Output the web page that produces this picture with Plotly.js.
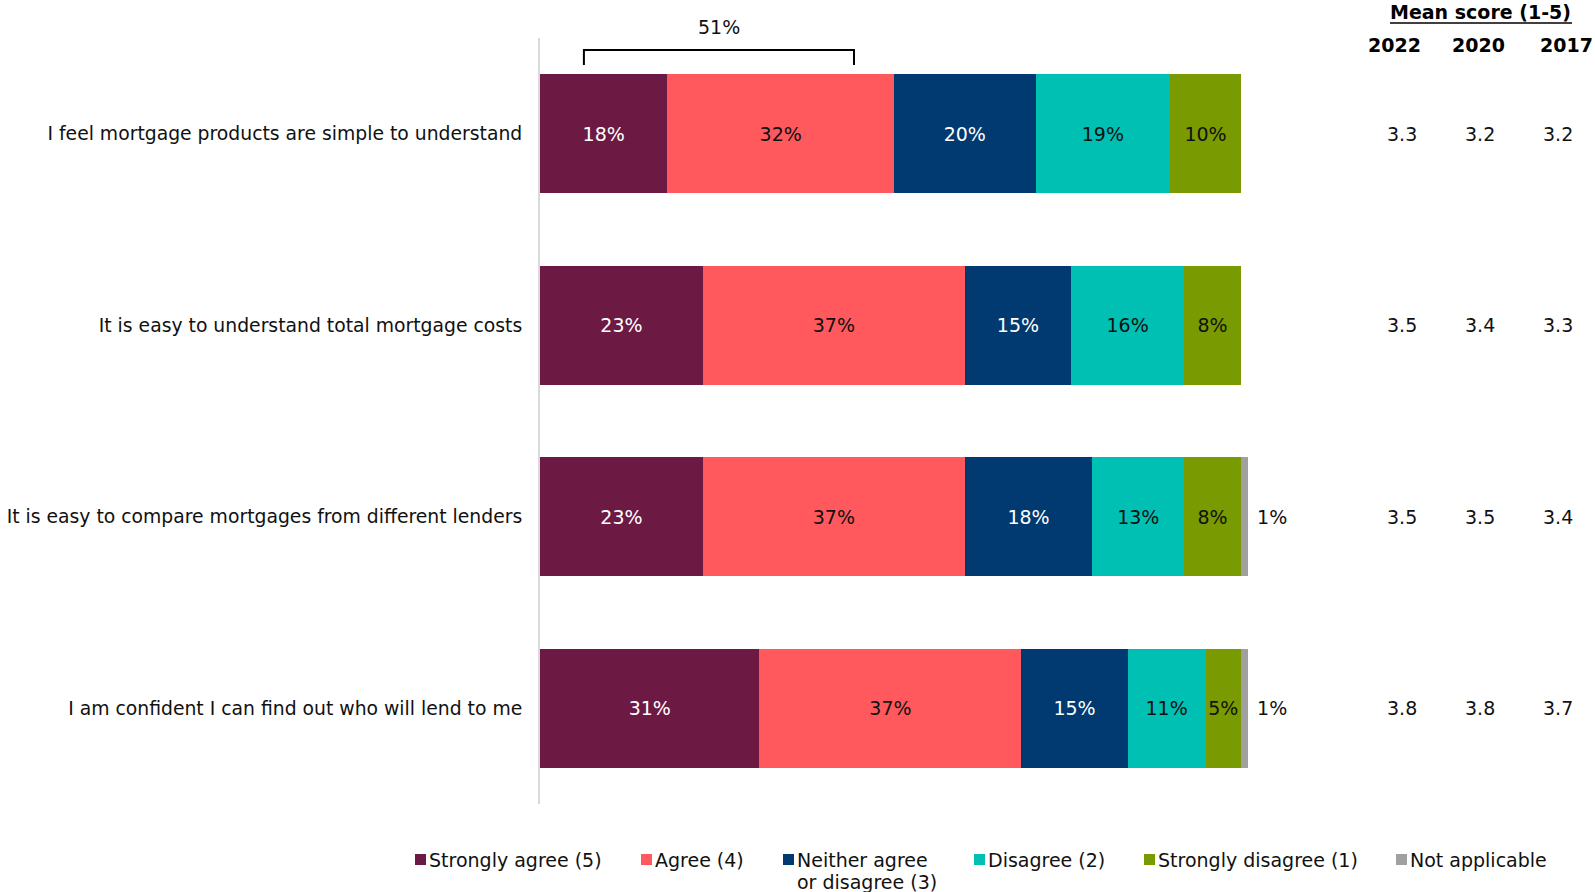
<!DOCTYPE html>
<html>
<head>
<meta charset="utf-8">
<script src="https://cdn.plot.ly/plotly-3.0.1.min.js"></script>
<style>html,body{margin:0;padding:0;background:#fff;}#chart{width:1595px;height:892px;}</style>
</head>
<body>
<div id="chart"></div>
<script>
// ---- data ----
const categories = [
  "I feel mortgage products are simple to understand",
  "It is easy to understand total mortgage costs",
  "It is easy to compare mortgages from different lenders",
  "I am confident I can find out who will lend to me"
];
const seriesNames = ["Strongly agree (5)", "Agree (4)", "Neither agree<br>or disagree (3)", "Disagree (2)", "Strongly disagree (1)", "Not applicable"];
const stronglyAgree    = [18, 23, 23, 31];
const agree            = [32, 37, 37, 37];
const neither          = [20, 15, 18, 15];
const disagree         = [19, 16, 13, 11];
const stronglyDisagree = [10, 8, 8, 5];
const notApplicable    = [null, null, 1, 1];
const meanTitle = "Mean score (1-5)";
const meanYears = ["2022", "2020", "2017"];
const mean2022 = [3.3, 3.5, 3.5, 3.8];
const mean2020 = [3.2, 3.4, 3.5, 3.8];
const mean2017 = [3.2, 3.3, 3.4, 3.7];
const netAgreeLabel = ["51%"];

// ---- styling ----
const colors = ["#6C1A44", "#FF585D", "#003A70", "#00BFB3", "#7A9A01", "#A0A0A0"];
const textColors = ["#ffffff", "#111111", "#ffffff", "#111111", "#111111", "#111111"];
const FONT = "DejaVu Sans, Verdana, sans-serif";
const FS = 19;
const W = 1595, H = 892;
const L = 540, R = 1248, T = 38, B = 804;
const px = x => (x - L) / (R - L);
const py = y => (B - y) / (B - T);

const seriesValues = [stronglyAgree, agree, neither, disagree, stronglyDisagree, notApplicable];
const traces = seriesValues.map((vals, i) => ({
  type: "bar",
  orientation: "h",
  name: seriesNames[i].replace("<br>", " "),
  y: categories,
  x: vals,
  marker: {color: colors[i], line: {width: 0}},
  text: vals.map(v => v == null ? "" : (i === 5 ? "\u00a0" : "") + v + "%"),
  texttemplate: "%{text}",
  textposition: i === 5 ? "outside" : "inside",
  insidetextanchor: "middle",
  textangle: 0,
  constraintext: "none",
  cliponaxis: false,
  insidetextfont: {family: FONT, size: FS, color: textColors[i]},
  outsidetextfont: {family: FONT, size: FS, color: "#111111"},
  hoverinfo: "skip",
  showlegend: false
}));

const annotations = [];
const shapes = [];

// Mean score header
annotations.push({xref: "paper", yref: "paper", x: px(1480), y: py(12), xanchor: "center", yanchor: "middle",
  text: "<b>" + meanTitle + "</b>", showarrow: false, font: {family: FONT, size: FS, color: "#000"}});
shapes.push({type: "line", xref: "paper", yref: "paper", x0: px(1390), x1: px(1572), y0: py(23), y1: py(23),
  line: {color: "#000", width: 1.5}});
const yearX = [1394, 1478, 1566];
const valX = [1402, 1480, 1558];
const meanCols = [mean2022, mean2020, mean2017];
meanYears.forEach((yr, j) => {
  annotations.push({xref: "paper", yref: "paper", x: px(yearX[j]), y: py(45), xanchor: "center", yanchor: "middle",
    text: "<b>" + yr + "</b>", showarrow: false, font: {family: FONT, size: FS, color: "#000"}});
  categories.forEach((c, k) => {
    annotations.push({xref: "paper", yref: "y", x: px(valX[j]), y: c, xanchor: "center", yanchor: "middle",
      text: meanCols[j][k].toFixed(1), showarrow: false, font: {family: FONT, size: FS, color: "#111"}});
  });
});

// Bracket with net agree label
const bx0 = 6.2, bx1 = 44.35;
shapes.push({type: "path", xref: "x", yref: "paper",
  path: `M${bx0},${py(65)} L${bx0},${py(50)} L${bx1},${py(50)} L${bx1},${py(65)}`,
  line: {color: "#000", width: 2}});
annotations.push({xref: "x", yref: "paper", x: (bx0 + bx1) / 2, y: py(27.5), xanchor: "center", yanchor: "middle",
  text: netAgreeLabel[0], showarrow: false, font: {family: FONT, size: FS, color: "#111"}});

// Custom legend
const legMarkerX = [415, 641, 783, 974, 1144, 1396];
const legY = 859.5, legLineGap = 22.5;
seriesNames.forEach((n, i) => {
  shapes.push({type: "rect", xref: "paper", yref: "paper", x0: px(legMarkerX[i]), x1: px(legMarkerX[i] + 11),
    y0: py(legY + 5.5), y1: py(legY - 5.5), fillcolor: colors[i], line: {width: 0}});
  n.split("<br>").forEach((line, li) => {
    annotations.push({xref: "paper", yref: "paper", x: px(legMarkerX[i] + 13), y: py(legY + li * legLineGap),
      xanchor: "left", yanchor: "middle", align: "left", text: line, showarrow: false, borderpad: 0,
      font: {family: FONT, size: FS, color: "#111"}});
  });
});

const layout = {
  width: W, height: H,
  margin: {l: L, r: W - R, t: T, b: H - B, pad: 0},
  paper_bgcolor: "#fff", plot_bgcolor: "#fff",
  barmode: "stack",
  bargap: 0.38,
  showlegend: false,
  font: {family: FONT, size: FS, color: "#111"},
  xaxis: {range: [0, 100], showgrid: false, zeroline: false, showline: false, showticklabels: false, ticks: "", fixedrange: true},
  yaxis: {type: "category", categoryorder: "array", categoryarray: categories, autorange: "reversed",
    showgrid: false, zeroline: false, showline: true, linecolor: "#D9D9D9", linewidth: 2,
    ticks: "", ticklabelstandoff: 12, tickfont: {family: FONT, size: 18.8, color: "#111"}, fixedrange: true},
  annotations: annotations,
  shapes: shapes
};

Plotly.newPlot("chart", traces, layout, {displayModeBar: false, staticPlot: true});
</script>
</body>
</html>
